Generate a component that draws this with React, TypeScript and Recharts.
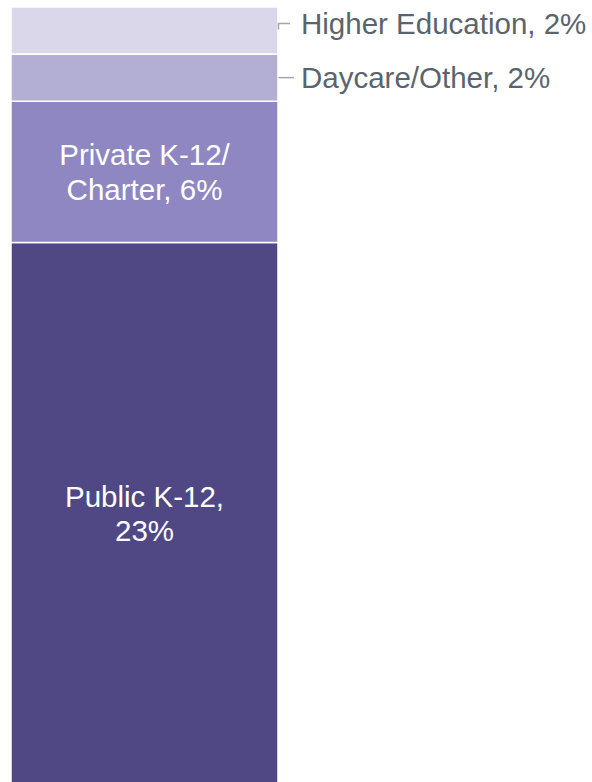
import React from "react";
import { BarChart, Bar, XAxis, YAxis, LabelList } from "recharts";

// Segments, bottom to top
const segmentKeys = ["publicK12", "privateK12", "daycare", "higherEd"];
const segmentNames = ["Public K-12", "Private K-12/Charter", "Daycare/Other", "Higher Education"];
const segmentValues = [23, 6, 2, 2];
const segmentColors = ["#504785", "#8F87C2", "#B3AED4", "#DAD7EA"];
const insideLabelLines = [["Public K-12,", "23%"], ["Private K-12/", "Charter, 6%"]];
const outsideLabels = ["Daycare/Other, 2%", "Higher Education, 2%"];
const outsideLabelShift = [0, -7];

const row: Record<string, number | string> = { name: "Total" };
segmentKeys.forEach((k, i) => {
  row[k] = segmentValues[i];
});
const data = [row];

const FONT = "'Liberation Sans', Arial, sans-serif";
const FONT_SIZE = 29.5;
const TEXT_GRAY = "#5A646D";
const LEADER_GRAY = "#A6A6A6";

function getBox(props: any) {
  const vb = props.viewBox || {};
  const x = props.x ?? vb.x;
  const y = props.y ?? vb.y;
  const width = props.width ?? vb.width;
  const height = props.height ?? vb.height;
  return { x: Number(x), y: Number(y), width: Number(width), height: Number(height) };
}

const makeInsideLabel = (lines: string[]) => (props: any) => {
  const { x, y, width, height } = getBox(props);
  const cx = x + width / 2;
  const cy = y + height / 2;
  return (
    <g>
      <text x={cx} y={cy - 6.5} textAnchor="middle" fill="#FFFFFF" fontFamily={FONT} fontSize={FONT_SIZE}>
        {lines[0]}
      </text>
      <text x={cx} y={cy + 28} textAnchor="middle" fill="#FFFFFF" fontFamily={FONT} fontSize={FONT_SIZE}>
        {lines[1]}
      </text>
    </g>
  );
};

const makeOutsideLabel = (label: string, shift: number) => (props: any) => {
  const { x, y, width, height } = getBox(props);
  const right = x + width;
  const cy = y + height / 2;
  const ty = cy + shift;
  const endX = shift !== 0 ? right + 12 : right + 16;
  const path =
    shift !== 0
      ? `M${right + 0.5},${cy - 1} L${right + 0.5},${ty} L${endX},${ty}`
      : `M${right + 0.5},${ty} L${endX},${ty}`;
  return (
    <g>
      <path d={path} stroke={LEADER_GRAY} strokeWidth={1.5} fill="none" />
      <text x={right + 23} y={ty + 10.5} textAnchor="start" fill={TEXT_GRAY} fontFamily={FONT} fontSize={FONT_SIZE}>
        {label}
      </text>
    </g>
  );
};

export default function App() {
  return (
    <div style={{ position: "absolute", left: 0, top: 0, width: 592, height: 782, background: "#fff", overflow: "hidden" }}>
      <BarChart
        width={592}
        height={784}
        data={data}
        margin={{ top: 7, right: 314, bottom: 0, left: 11 }}
        barCategoryGap={0}
      >
        <XAxis dataKey="name" type="category" hide />
        <YAxis type="number" domain={[0, 33]} hide />
        {segmentKeys.map((k, i) => (
          <Bar
            key={k}
            dataKey={k}
            name={segmentNames[i]}
            stackId="a"
            fill={segmentColors[i]}
            stroke="#FFFFFF"
            strokeWidth={1.5}
            isAnimationActive={false}
          >
            {i < 2 ? (
              <LabelList dataKey={k} content={makeInsideLabel(insideLabelLines[i])} />
            ) : (
              <LabelList dataKey={k} content={makeOutsideLabel(outsideLabels[i - 2], outsideLabelShift[i - 2])} />
            )}
          </Bar>
        ))}
      </BarChart>
    </div>
  );
}
